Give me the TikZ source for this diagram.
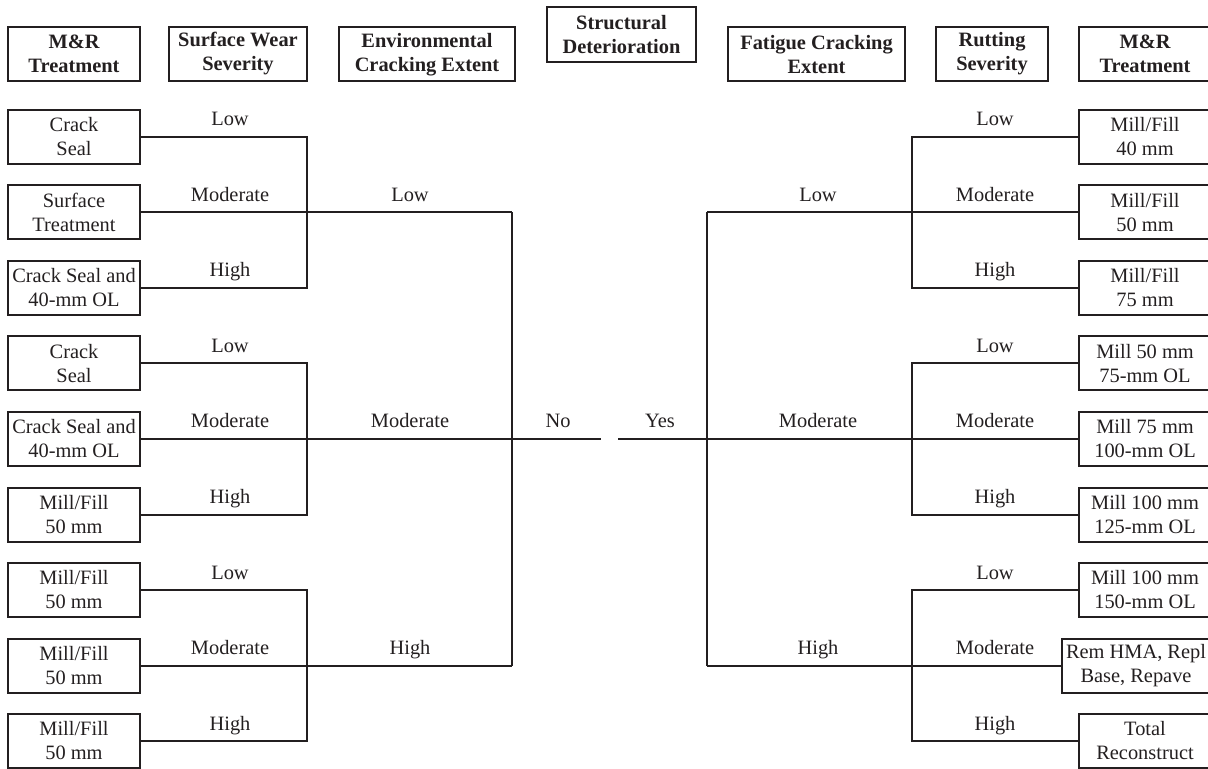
\documentclass[tikz,border=0pt]{standalone}
\usepackage{fontspec}
\setmainfont{Liberation Serif}
\definecolor{ink}{HTML}{231F20}
\begin{document}
\begin{tikzpicture}[x=0.5pt,y=-0.5pt,
  txt/.style={font=\fontsize{10.2}{12}\selectfont, text=ink},
  box/.style={txt, draw=ink, line width=1pt, inner sep=0pt, align=center, minimum height=27pt},
  head/.style={box, font=\fontsize{10.2}{12}\selectfont\bfseries},
  leaf/.style={box, minimum width=66pt},
  lbl/.style={txt, anchor=base, inner sep=0pt},
  conn/.style={draw=ink, line width=1pt}]
\useasboundingbox (0,0) rectangle (1208,769);
% headers
\node[head, minimum width=66pt] (hL) at (74,54) {M\&R\\Treatment};
\node[head, minimum width=69pt] (hS) at (238,54) {Surface Wear\\Severity};
\node[head, minimum width=88pt] (hE) at (427,54.5) {Environmental\\Cracking Extent};
\node[head, minimum width=74.5pt, minimum height=27.5pt] (hD) at (621.5,34.5) {Structural\\Deterioration};
\node[head, minimum width=88.5pt] (hF) at (816.5,54.5) {Fatigue Cracking\\Extent};
\node[head, minimum width=56pt] (hR) at (992,54) {Rutting\\Severity};
\node[head, minimum width=66pt] (hM) at (1145,54) {M\&R\\Treatment};
% left leaves
\node[leaf] (L1) at (74,137) {Crack\\Seal};
\node[leaf] (L2) at (74,212.5) {Surface\\Treatment};
\node[leaf] (L3) at (74,288) {Crack Seal and\\40-mm OL};
\node[leaf] (L4) at (74,363.5) {Crack\\Seal};
\node[leaf] (L5) at (74,439) {Crack Seal and\\40-mm OL};
\node[leaf] (L6) at (74,514.5) {Mill/Fill\\50 mm};
\node[leaf] (L7) at (74,590) {Mill/Fill\\50 mm};
\node[leaf] (L8) at (74,665.5) {Mill/Fill\\50 mm};
\node[leaf] (L9) at (74,741) {Mill/Fill\\50 mm};
% right leaves
\node[leaf] (R1) at (1145,137) {Mill/Fill\\40 mm};
\node[leaf] (R2) at (1145,212.5) {Mill/Fill\\50 mm};
\node[leaf] (R3) at (1145,288) {Mill/Fill\\75 mm};
\node[leaf] (R4) at (1145,363.5) {Mill 50 mm\\75-mm OL};
\node[leaf] (R5) at (1145,439) {Mill 75 mm\\100-mm OL};
\node[leaf] (R6) at (1145,514.5) {Mill 100 mm\\125-mm OL};
\node[leaf] (R7) at (1145,590) {Mill 100 mm\\150-mm OL};
\node[leaf, minimum width=74pt] (R8) at (1136,665.5) {Rem HMA, Repl\\Base, Repave};
\node[leaf] (R9) at (1145,741) {Total\\Reconstruct};
% junction coordinates
\coordinate (a1) at (307,137);   \coordinate (a3) at (307,288);
\coordinate (a4) at (307,363.5); \coordinate (a6) at (307,514.5);
\coordinate (a7) at (307,590);   \coordinate (a9) at (307,741);
\coordinate (e1) at (512,212.5); \coordinate (e3) at (512,665.5);
\coordinate (no) at (601,439);   \coordinate (yes) at (618,439);
\coordinate (f1) at (707,212.5); \coordinate (f3) at (707,665.5);
\coordinate (b1) at (912,137);   \coordinate (b3) at (912,288);
\coordinate (b4) at (912,363.5); \coordinate (b6) at (912,514.5);
\coordinate (b7) at (912,590);   \coordinate (b9) at (912,741);
% left connectors
\draw[conn] (L1.east) -- (a1) -- (a3) -- (L3.east);
\draw[conn] (L2.east) -- (e1);
\draw[conn] (L4.east) -- (a4) -- (a6) -- (L6.east);
\draw[conn] (L5.east) -- (no);
\draw[conn] (L7.east) -- (a7) -- (a9) -- (L9.east);
\draw[conn] (L8.east) -- (e3);
\draw[conn] (e1) -- (e3);
% right connectors
\draw[conn] (R1.west) -- (b1) -- (b3) -- (R3.west);
\draw[conn] (R2.west) -- (f1);
\draw[conn] (R4.west) -- (b4) -- (b6) -- (R6.west);
\draw[conn] (R5.west) -- (yes);
\draw[conn] (R7.west) -- (b7) -- (b9) -- (R9.west);
\draw[conn] (R8.west) -- (f3);
\draw[conn] (f1) -- (f3);
% labels left
\node[lbl] (ls1) at (230,126) {Low};
\node[lbl] (ls2) at (230,201.5) {Moderate};
\node[lbl] (ls3) at (230,277) {High};
\node[lbl] (ls4) at (230,352.5) {Low};
\node[lbl] (ls5) at (230,428) {Moderate};
\node[lbl] (ls6) at (230,503.5) {High};
\node[lbl] (ls7) at (230,579) {Low};
\node[lbl] (ls8) at (230,654.5) {Moderate};
\node[lbl] (ls9) at (230,730) {High};
\node[lbl] (le1) at (410,201.5) {Low};
\node[lbl] (le2) at (410,428) {Moderate};
\node[lbl] (le3) at (410,654.5) {High};
\node[lbl] (lno) at (558,428) {No};
\node[lbl] (lyes) at (660,428) {Yes};
% labels right
\node[lbl] (lf1) at (818,201.5) {Low};
\node[lbl] (lf2) at (818,428) {Moderate};
\node[lbl] (lf3) at (818,654.5) {High};
\node[lbl] (lr1) at (995,126) {Low};
\node[lbl] (lr2) at (995,201.5) {Moderate};
\node[lbl] (lr3) at (995,277) {High};
\node[lbl] (lr4) at (995,352.5) {Low};
\node[lbl] (lr5) at (995,428) {Moderate};
\node[lbl] (lr6) at (995,503.5) {High};
\node[lbl] (lr7) at (995,579) {Low};
\node[lbl] (lr8) at (995,654.5) {Moderate};
\node[lbl] (lr9) at (995,730) {High};
\end{tikzpicture}
\end{document}
